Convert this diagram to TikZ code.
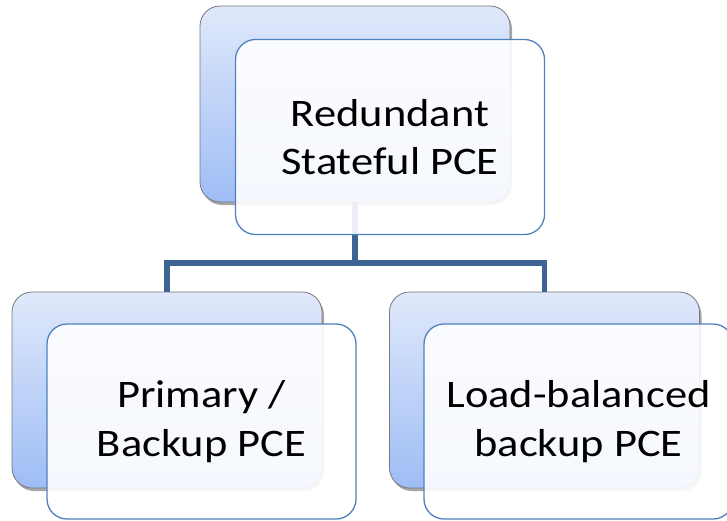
\documentclass[tikz,border=0pt]{standalone}
\usepackage{fontspec}
\setmainfont{Carlito}[FakeStretch=1.14]
\usetikzlibrary{shadows}
\definecolor{backtop}{RGB}{224,233,251}
\definecolor{backbot}{RGB}{158,189,245}
\definecolor{backedge}{RGB}{120,120,120}
\definecolor{frontedge}{RGB}{79,129,189}
\definecolor{linkcol}{RGB}{62,100,148}
\tikzset{
  backbox/.style={rectangle, rounded corners=20pt, minimum width=310pt, minimum height=196pt,
    inner sep=0pt, draw=backedge, line width=0.8pt, top color=backtop, bottom color=backbot,
    drop shadow={shadow xshift=2pt, shadow yshift=-3pt, opacity=0.35, fill=black}},
  frontbox/.style={rectangle, rounded corners=20pt, minimum width=309pt, minimum height=195pt,
    inner sep=0pt, draw=frontedge, line width=1.3pt, fill=white, fill opacity=0.9, text opacity=1,
    align=center, font=\fontsize{39}{48.5}\selectfont},
  link/.style={draw=linkcol, line width=5.5pt}
}
\begin{document}
\begin{tikzpicture}[x=1pt,y=-1pt]
\useasboundingbox (0,0) rectangle (727,520);
\node[backbox] (topback) at (355,104) {};
\node[backbox] (leftback) at (167,390) {};
\node[backbox] (rightback) at (544.5,390) {};
\coordinate (junction) at (355,263);
\draw[link] (topback.south) -- (junction);
\draw[link] (junction) -| (leftback.north);
\draw[link] (junction) -| (rightback.north);
\node[frontbox] (topfront) at (390,137) {Redundant\\Stateful PCE};
\node[frontbox] (leftfront) at (201.5,421.5) {Primary /\\Backup PCE};
\node[frontbox] (rightfront) at (578.5,421.5) {Load-balanced\\backup PCE};
\end{tikzpicture}
\end{document}
